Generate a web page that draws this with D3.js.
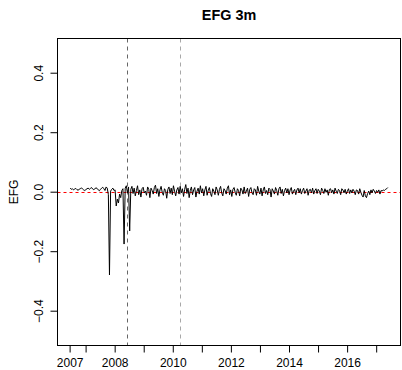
<!DOCTYPE html>
<html><head><meta charset="utf-8">
<script src="https://cdn.jsdelivr.net/npm/d3@7"></script>
<style>
html,body{margin:0;padding:0;background:#fff;}
svg{display:block;font-family:"Liberation Sans",Arial,Helvetica,sans-serif;}
</style></head>
<body><svg id="c" width="402" height="370"></svg>
<script>
// ---- data ----
const title = "EFG 3m";
const yLabel = "EFG";
const startYear = 2006.47;
const endYear = 2017.40;
const efg = [
 .012,.008,.010,.006,.009,.011,.007,.005,.008,.010,.013,.009,.006,.004,.007,.010,.012,.008,.011,.014,.009,.007,.010,.013,.011,.006,.003,.008,.012,.015,.010,.004,.016,.012,-.010,
 -.280,
 .002,.008,.012,.004,.006,
 -.048,-.025,-.038,-.008,-.020,.004,.010,-.176,.012,.020,-.004,.016,-.132,
 .008,.018,-.006,.012,-.014,.004,.020,-.010,.006,-.018,.010,.015,-.004,.002,-.012,.016,.008,-.020,.012,.004,-.008,.014,.022,-.006,.010,-.016,.006,.018,-.002,-.012,.010,.004,-.022,.008,.016,-.006,.012,-.010,.020,.002,-.014,.006,.014,-.008,.018,-.004,
 .010,-.016,.008,.024,-.006,.012,-.020,.004,.016,-.010,.006,.014,-.018,.002,.012,-.008,.020,-.004,.010,-.014,.006,.018,-.012,.004,.014,-.006,-.016,.010,.002,-.010,.016,.006,-.012,.008,.018,-.004,-.014,.010,.004,-.008,.012,.020,-.010,.006,-.016,.008,.014,-.002,-.012,.010,
 .004,-.014,.012,.006,-.008,.016,-.006,.002,.012,-.016,.008,.014,-.004,-.010,.010,.006,-.012,.018,.002,-.008,.012,-.014,.006,.016,-.006,.004,-.010,.012,.008,-.018,.010,.002,-.008,.014,.004,-.012,.010,.016,-.006,.008,-.014,.004,.012,-.004,.010,-.010,.006,.014,-.008,.002,
 .008,-.010,.006,.012,-.004,.010,-.008,.004,.012,-.006,.002,.010,-.012,.006,.008,-.004,.012,-.008,.004,.010,-.006,.008,.002,-.010,.012,.004,-.006,.010,-.002,.006,-.012,.008,.010,-.004,.006,-.008,.012,.002,-.006,.008,.004,-.010,.010,.006,-.004,.008,-.008,.002,.010,-.006,
 .006,-.004,.008,.002,-.010,.006,.004,-.008,.010,-.002,-.012,-.018,.004,-.014,-.020,-.006,.002,-.010,.006,-.004,.008,.002,-.006,.004,-.002,.006,-.008,.004,.002,.006,.004,.008,.010,.014
];
const eventYears = [2008.43, 2010.25];
const eventColors = ["#666666", "#a8a8a8"];
const xTickValues = [2006.45, 2007, 2008, 2009, 2010, 2011, 2012, 2013, 2014, 2015, 2016, 2017];
const xTickLabels = ["2007", "", "2008", "", "2010", "", "2012", "", "2014", "", "2016", ""];
const yTickValues = [-0.4, -0.2, 0, 0.2, 0.4];

// ---- layout ----
const L = 57.5, R = 400.5, T = 38.5, B = 345.5;
const svg = d3.select("#c");
const n = efg.length;
const step = (endYear - startYear) / (n - 1);
const pts = efg.map((v, i) => ({t: startYear + i * step, v}));
const pad = 0.04 * (endYear - startYear);
const x = d3.scaleLinear().domain([startYear - pad, endYear + pad]).range([L, R]);
const y = d3.scaleLinear().domain([-0.517, 0.515]).range([B, T]);

// zero line
svg.append("line").attr("x1", L).attr("x2", R).attr("y1", Math.round(y(0)) + 0.5).attr("y2", Math.round(y(0)) + 0.5)
  .attr("stroke", "#ff0000").attr("stroke-width", 1).attr("stroke-dasharray", "3,3");

// event lines
eventYears.forEach((e, i) => {
  const xx = Math.round(x(e)) + 0.5;
  svg.append("line").attr("x1", xx).attr("x2", xx).attr("y1", T).attr("y2", B)
    .attr("stroke", eventColors[i]).attr("stroke-width", 1).attr("stroke-dasharray", "4,4");
});

// series
svg.append("path").datum(pts)
  .attr("d", d3.line().x(d => x(d.t)).y(d => y(d.v)))
  .attr("fill", "none").attr("stroke", "#000").attr("stroke-width", 1);

// box
svg.append("rect").attr("x", L).attr("y", T).attr("width", R - L).attr("height", B - T)
  .attr("fill", "none").attr("stroke", "#000").attr("stroke-width", 1);

// x axis
const gx = svg.append("g").attr("transform", `translate(0,${B})`)
  .call(d3.axisBottom(x).tickValues(xTickValues).tickSize(7).tickFormat((d, i) => xTickLabels[i]));
gx.select(".domain").remove();
gx.selectAll("line").attr("stroke", "#000");
gx.selectAll("text").attr("y", 21.5).attr("dy", 0).attr("font-size", 12).attr("fill", "#000");

// y axis
const gy = svg.append("g").attr("transform", `translate(${L},0)`)
  .call(d3.axisLeft(y).tickValues(yTickValues).tickSize(7).tickFormat(d3.format(".1f")));
gy.select(".domain").remove();
gy.selectAll("line").attr("stroke", "#000");
gy.selectAll("text").attr("transform", "rotate(-90)").attr("x", 0).attr("y", -15).attr("dy", 0)
  .attr("text-anchor", "middle").attr("font-size", 12).attr("fill", "#000");

// title
svg.append("text").attr("x", (L + R) / 2).attr("y", 20).attr("text-anchor", "middle")
  .attr("font-size", 14.4).attr("font-weight", "bold").text(title);

// y label
svg.append("text").attr("transform", `translate(17.5,${(T + B) / 2}) rotate(-90)`)
  .attr("text-anchor", "middle").attr("font-size", 12).text(yLabel);
</script>
</body></html>
